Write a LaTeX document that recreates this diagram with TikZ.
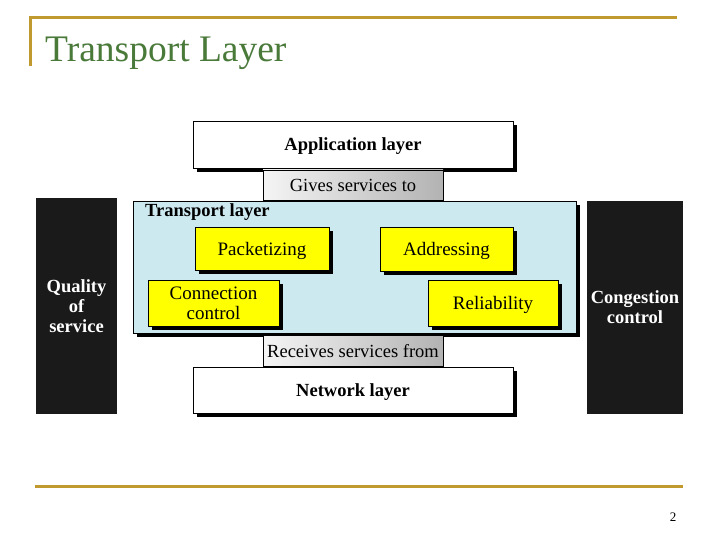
\documentclass[tikz,border=0pt]{standalone}
\usepackage{fontspec}
\setmainfont{Liberation Serif}
\usetikzlibrary{shadows}
\definecolor{rulegold}{HTML}{C09A2E}
\definecolor{titlegreen}{HTML}{4A7A3A}
\definecolor{tlblue}{HTML}{CDE9F0}
\definecolor{boxyellow}{HTML}{FFFF00}
\definecolor{darkbox}{HTML}{1A1A1A}
\tikzset{
  shad/.style={drop shadow={shadow xshift=4pt,shadow yshift=-4pt,fill=black,opacity=1}},
  layerbox/.style={draw=black,line width=0.6pt,fill=white,shad,minimum width=320pt,font=\fontsize{18.5}{20}\selectfont\bfseries,inner sep=0pt,text depth=0pt},
  svcbox/.style={draw=black,line width=0.5pt,left color=gray!8,right color=gray!60,minimum width=180pt,font=\fontsize{18.5}{20}\selectfont,inner sep=0pt,text depth=0pt},
  funcbox/.style={draw=black,line width=0.6pt,fill=boxyellow,shad,font=\fontsize{19}{20}\selectfont,align=center,inner sep=0pt,text depth=0pt},
  sidebox/.style={fill=darkbox,text=white,font=\fontsize{18.5}{20}\selectfont\bfseries,align=center,inner sep=0pt},
  goldrule/.style={draw=rulegold,line width=3pt}
}
\begin{document}
\begin{tikzpicture}[x=1pt,y=-1pt]
\useasboundingbox[fill=white] (0,0) rectangle (720,540);
% slide decorations
\coordinate (tl) at (30,18);
\coordinate (tr) at (677,18);
\coordinate (tb) at (30,66);
\draw[goldrule] (tb) -- (tl) -- (tr);
\node[anchor=base west,text=titlegreen,font=\fontsize{37.5}{40}\selectfont,inner sep=0pt] (title) at (45,62) {Transport Layer};
\coordinate (bl) at (35,486.5);
\coordinate (br) at (683,486.5);
\draw[goldrule] (bl) -- (br);
\node[anchor=base,font=\fontsize{13}{14}\selectfont,inner sep=0pt] (pagenum) at (673,521) {2};
% side boxes
\node[sidebox,minimum width=81pt,minimum height=216pt] (qos) at (76.5,306) {Quality\\of\\service};
\node[sidebox,minimum width=96pt,minimum height=213pt] (cong) at (635,307.5) {Congestion\\control};
% layers
\node[layerbox,minimum height=47pt] (app) at (353,144.5) {Application layer};
\node[draw=black,line width=0.6pt,fill=tlblue,shad,minimum width=443pt,minimum height=132pt,inner sep=0pt] (tlayer) at (354.5,267) {};
\node[anchor=north west,font=\fontsize{18.5}{20}\selectfont\bfseries,inner sep=0pt] (tltitle) at (145,203) {Transport layer};
\node[svcbox,minimum height=30pt] (gives) at (353,185) {Gives services to};
\node[funcbox,minimum width=134pt,minimum height=43pt] (pack) at (262,248.5) {Packetizing};
\node[funcbox,minimum width=133pt,minimum height=44pt] (addr) at (446.5,249) {Addressing};
\node[funcbox,minimum width=131pt,minimum height=46pt] (conn) at (213.5,303) {Connection\\control};
\node[funcbox,minimum width=130pt,minimum height=46pt] (rel) at (493,303) {Reliability};
\node[svcbox,minimum height=31pt] (recv) at (353,350.5) {Receives services from};
\node[layerbox,minimum height=46pt] (net) at (353,390) {Network layer};
\end{tikzpicture}
\end{document}
